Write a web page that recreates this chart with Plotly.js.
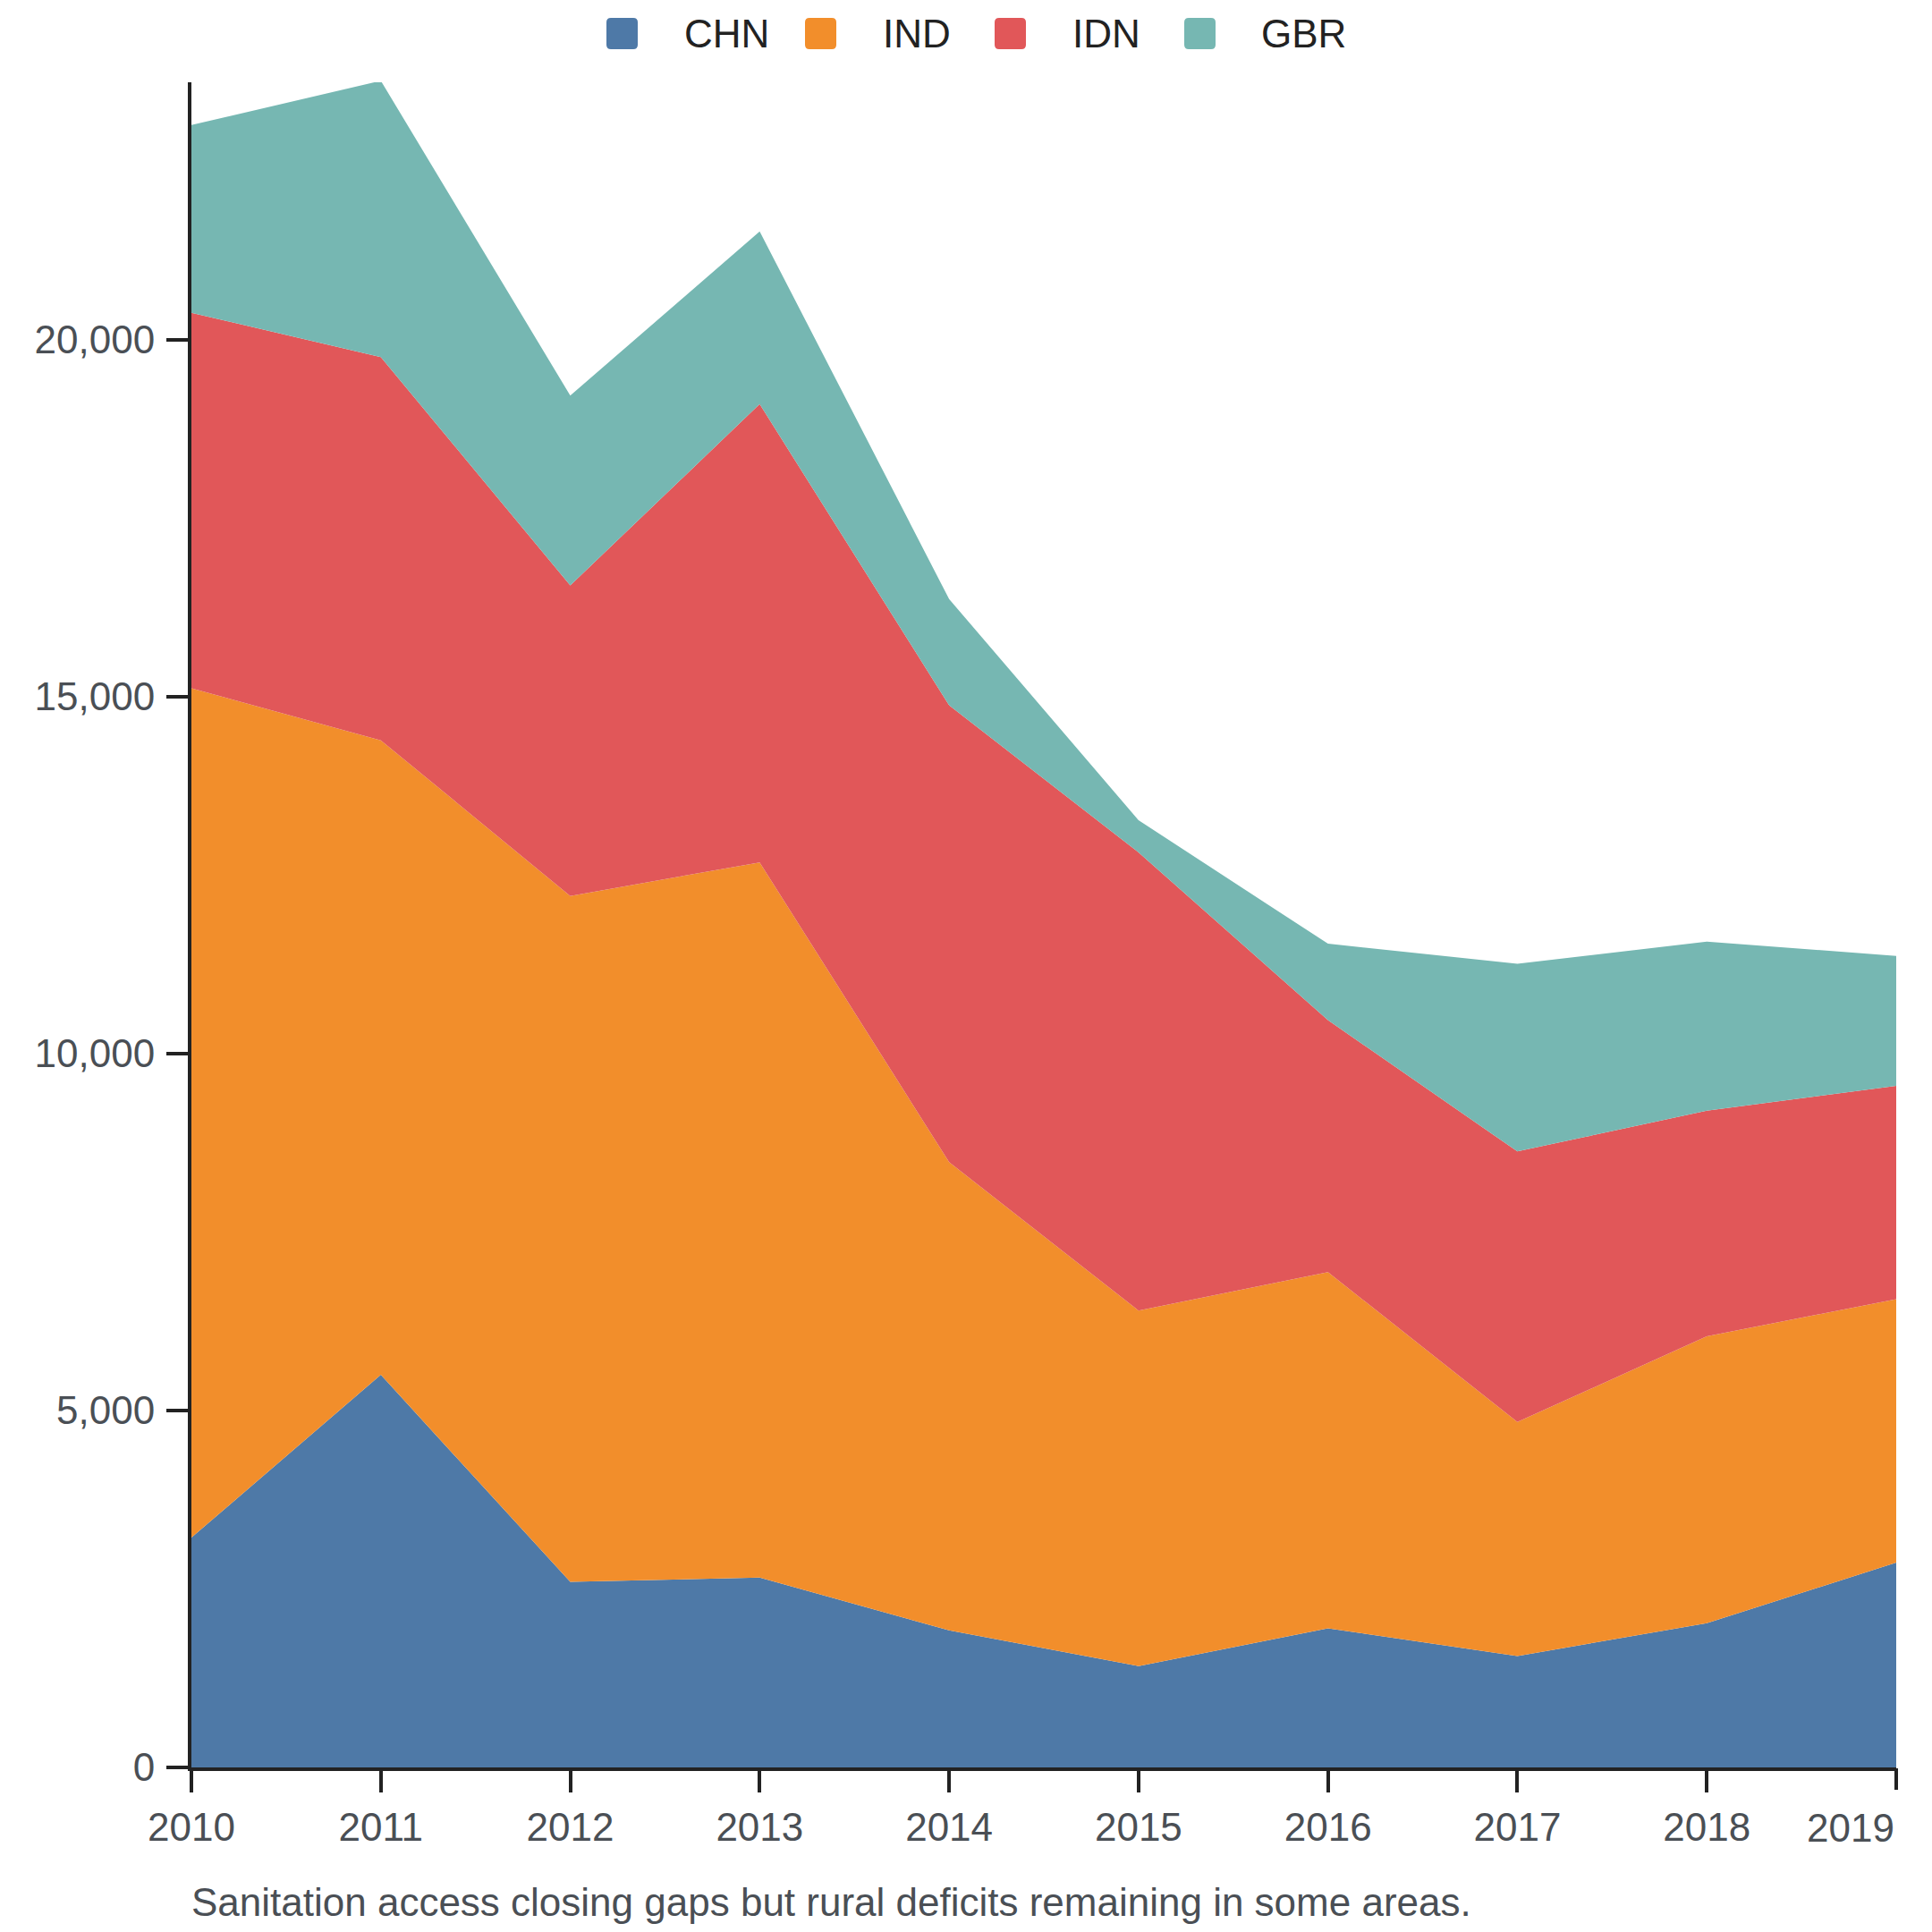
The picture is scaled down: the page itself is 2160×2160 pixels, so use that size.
<!DOCTYPE html>
<html>
<head>
<meta charset="utf-8">
<script src="https://cdn.plot.ly/plotly-3.0.1.min.js"></script>
<style>html,body{margin:0;padding:0;background:#fff;}#chart{width:2160px;height:2160px;}</style>
</head>
<body>
<div id="chart"></div>
<script>
const years = [2010, 2011, 2012, 2013, 2014, 2015, 2016, 2017, 2018, 2019];
const seriesNames = ["CHN", "IND", "IDN", "GBR"];
const CHN = [3220, 5500, 2600, 2660, 1920, 1420, 1950, 1560, 2020, 2870];
const IND = [11900, 8890, 9610, 10020, 6560, 4980, 4990, 3280, 4020, 3690];
const IDN = [5260, 5370, 4350, 6420, 6400, 6420, 3530, 3790, 3160, 2990];
const GBR = [2630, 3870, 2660, 2420, 1490, 450, 1070, 2630, 2370, 1820];
const colors = ["#4e79a7", "#f28e2b", "#e15759", "#76b7b2"];
const yTicks = [0, 5000, 10000, 15000, 20000];
const yTickLabels = ["0", "5,000", "10,000", "15,000", "20,000"];
const xTickLabels = ["2010","2011","2012","2013","2014","2015","2016","2017","2018","2019"];
const caption = "Sanitation access closing gaps but rural deficits remaining in some areas.";

// layout geometry (pixels)
const W = 2160, H = 2160;
const M = {l: 214, r: 40, t: 92, b: 184};
const plotW = W - M.l - M.r, plotH = H - M.t - M.b;
const px2x = p => (p - M.l) / plotW;
const px2y = p => (H - M.b - p) / plotH;

const values = [CHN, IND, IDN, GBR];
const traces = values.map((v, i) => ({
  type: "scatter",
  mode: "lines",
  x: years,
  y: v,
  name: seriesNames[i],
  stackgroup: "one",
  line: {width: 0, color: colors[i]},
  fillcolor: colors[i],
  showlegend: false
}));
traces.push({type: "scatter", x: [years[9]], y: [0], xaxis: "x2", yaxis: "y", mode: "markers",
  marker: {opacity: 0}, showlegend: false, hoverinfo: "skip"});

// custom legend (rounded square swatches + labels)
const legendSwatchLeft = [678, 900, 1112, 1324];
const legendTextLeft = [765, 987, 1199, 1410];
const swSize = 35, swTop = 20, swR = 5, legendMid = 38;
const shapes = [];
const annotations = [];
seriesNames.forEach((n, i) => {
  const x0 = legendSwatchLeft[i], x1 = x0 + swSize, y0 = swTop, y1 = swTop + swSize;
  const X = px2x, Y = px2y;
  const path = `M ${X(x0 + swR)},${Y(y0)} L ${X(x1 - swR)},${Y(y0)} Q ${X(x1)},${Y(y0)} ${X(x1)},${Y(y0 + swR)} ` +
    `L ${X(x1)},${Y(y1 - swR)} Q ${X(x1)},${Y(y1)} ${X(x1 - swR)},${Y(y1)} ` +
    `L ${X(x0 + swR)},${Y(y1)} Q ${X(x0)},${Y(y1)} ${X(x0)},${Y(y1 - swR)} ` +
    `L ${X(x0)},${Y(y0 + swR)} Q ${X(x0)},${Y(y0)} ${X(x0 + swR)},${Y(y0)} Z`;
  shapes.push({type: "path", xref: "paper", yref: "paper", path: path,
    fillcolor: colors[i], line: {width: 0}});
  annotations.push({text: n, xref: "paper", yref: "paper", x: px2x(legendTextLeft[i] - 2), xanchor: "left",
    y: px2y(legendMid), yanchor: "middle", showarrow: false,
    font: {size: 44, color: "#222222"}});
});
annotations.push({
  text: caption,
  xref: "paper", yref: "paper",
  x: px2x(212), xanchor: "left",
  y: px2y(2126), yanchor: "middle",
  showarrow: false,
  font: {size: 44, color: "#4a4f55"}
});

const layout = {
  width: W,
  height: H,
  margin: M,
  paper_bgcolor: "#ffffff",
  plot_bgcolor: "#ffffff",
  font: {family: "Liberation Sans, Arial, sans-serif", size: 44, color: "#4a4f55"},
  showlegend: false,
  xaxis: {
    range: [2010, 2019],
    tickvals: years.slice(0, 9),
    ticktext: xTickLabels.slice(0, 9),
    ticks: "outside", ticklen: 24, tickwidth: 4, tickcolor: "#222222",
    showline: true, linewidth: 4, linecolor: "#222222",
    showgrid: false, zeroline: false,
    ticklabelstandoff: 1,
    tickfont: {size: 44, color: "#4a4f55"},
    automargin: false
  },
  xaxis2: {
    range: [2010, 2019],
    overlaying: "x",
    side: "bottom",
    anchor: "y",
    tickvals: [years[9]],
    ticktext: [xTickLabels[9]],
    ticks: "outside", ticklen: 24, tickwidth: 4, tickcolor: "#222222",
    ticklabelposition: "outside left",
    showline: false, showgrid: false, zeroline: false,
    ticklabelstandoff: 29,
    tickfont: {size: 44, color: "#4a4f55"},
    automargin: false
  },
  yaxis: {
    range: [0, 23609],
    tickvals: yTicks,
    ticktext: yTickLabels,
    ticks: "outside", ticklen: 24, tickwidth: 4, tickcolor: "#222222",
    showline: true, linewidth: 4, linecolor: "#222222",
    showgrid: false, zeroline: false,
    ticklabelstandoff: 4,
    tickfont: {size: 44, color: "#4a4f55"},
    automargin: false
  },
  shapes: shapes,
  annotations: annotations
};

Plotly.newPlot("chart", traces, layout, {displayModeBar: false, staticPlot: true});
</script>
</body>
</html>
